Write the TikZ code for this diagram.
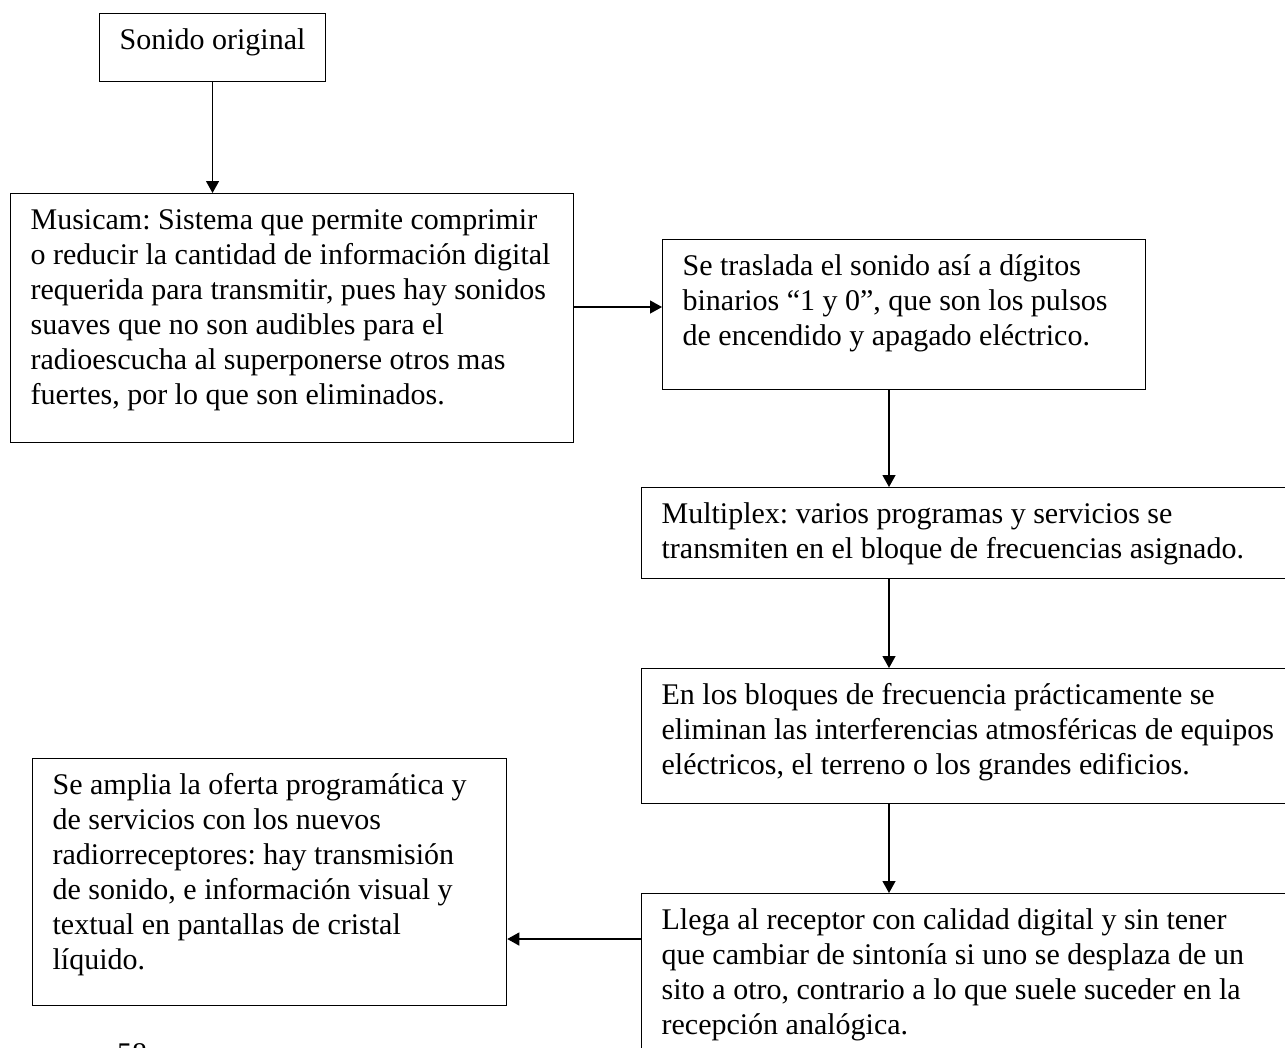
\documentclass[tikz,border=0pt]{standalone}
\usepackage{fontspec}
\setmainfont{Liberation Serif}
\usetikzlibrary{arrows.meta}

\begin{document}
\frenchspacing
\fontsize{12pt}{14pt}\selectfont
\begin{tikzpicture}[x=0.4pt, y=-0.4pt,
    caja/.style={draw, line width=0.5pt, anchor=north west, align=flush left,
        inner xsep=8pt, inner ysep=4.8pt, text height=9.6pt},
    flecha/.style={line width=0.5pt, -{Triangle[length=4.8pt,width=5.2pt]}}]
    \useasboundingbox (0,0) rectangle (1285,1047);
    % cajas
    \node[caja, text depth=8pt] (orig) at (99,13) {Sonido original};
    \node[caja, text width=209.2pt, text depth=80.4pt] (musicam) at (10,193)
        {Musicam: Sistema que permite comprimir\\
         o reducir la cantidad de información digital\\
         requerida para transmitir, pues hay sonidos\\
         suaves que no son audibles para el\\
         radioescucha al superponerse otros mas\\
         fuertes, por lo que son eliminados.};
    \node[caja, text width=177.2pt, text depth=40.8pt] (binario) at (662,239)
        {Se traslada el sonido así a dígitos\\
         binarios “1 y 0”, que son los pulsos\\
         de encendido y apagado eléctrico.};
    \node[caja, text width=260pt, text depth=17.2pt] (multiplex) at (641,487)
        {Multiplex: varios programas y servicios se\\
         transmiten en el bloque de frecuencias asignado.};
    \node[caja, text width=260pt, text depth=34.8pt] (bloques) at (641,668)
        {En los bloques de frecuencia prácticamente se\\
         eliminan las interferencias atmosféricas de equipos\\
         eléctricos, el terreno o los grandes edificios.};
    \node[caja, text width=260pt, text depth=52.8pt] (receptor) at (641,893)
        {Llega al receptor con calidad digital y sin tener\\
         que cambiar de sintonía si uno se desplaza de un\\
         sito a otro, contrario a lo que suele suceder en la\\
         recepción analógica.};
    \node[caja, text width=173.6pt, text depth=79.6pt] (oferta) at (32,758)
        {Se amplia la oferta programática y\\
         de servicios con los nuevos\\
         radiorreceptores: hay transmisión\\
         de sonido, e información visual y\\
         textual en pantallas de cristal\\
         líquido.};
    \node[anchor=north, inner sep=0pt] (pagina) at (132,1043) {58};
    % flechas
    \coordinate (fila) at (0,307);
    \coordinate (eje) at (889,0);
    \coordinate (salida) at (0,939);
    \draw[flecha] (orig.south) -- (orig.south |- musicam.north);
    \draw[flecha] (musicam.east |- fila) -- (binario.west |- fila);
    \draw[flecha] (binario.south -| eje) -- (multiplex.north -| eje);
    \draw[flecha] (multiplex.south -| eje) -- (bloques.north -| eje);
    \draw[flecha] (bloques.south -| eje) -- (receptor.north -| eje);
    \draw[flecha] (receptor.west |- salida) -- (oferta.east |- salida);
\end{tikzpicture}
\end{document}
